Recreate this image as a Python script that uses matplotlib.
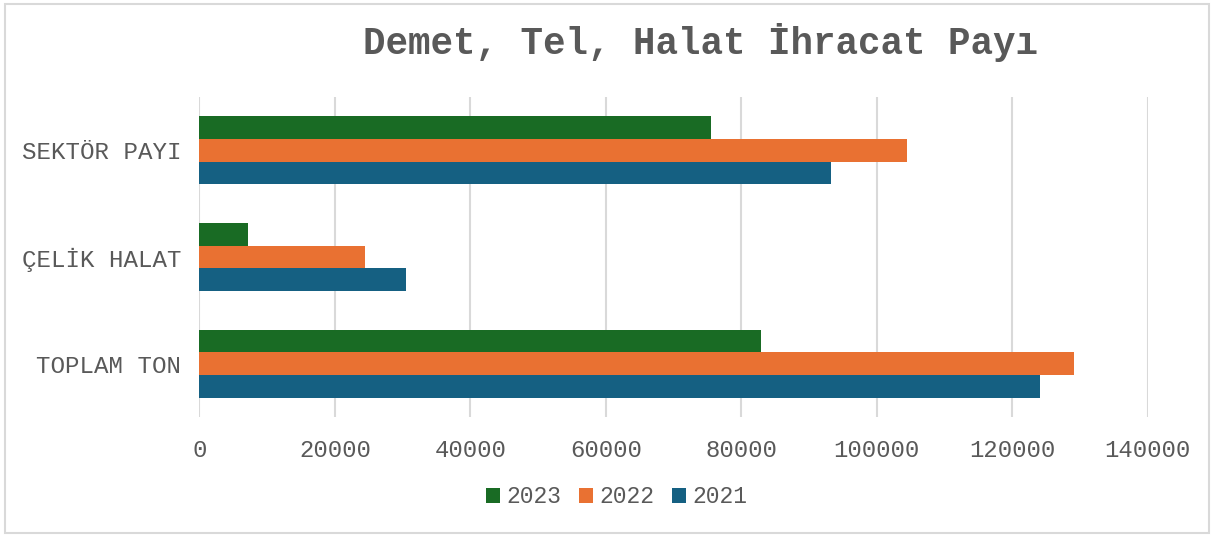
import numpy as np
import matplotlib.pyplot as plt
from matplotlib.patches import Rectangle

# Data
categories = ["TOPLAM TON", "ÇELİK HALAT", "SEKTÖR PAYI"]
years = ["2023", "2022", "2021"]
values_2023 = [82900, 7100, 75600]
values_2022 = [129100, 24450, 104450]
values_2021 = [124100, 30450, 93300]
x_ticks = [0, 20000, 40000, 60000, 80000, 100000, 120000, 140000]

colors = {"2023": "#196B24", "2022": "#E97132", "2021": "#156082"}
text_color = "#595959"
font = "Liberation Mono"


def main() -> None:
    fig = plt.figure(figsize=(12.14, 5.36), dpi=100)
    ax = fig.add_axes([0.1643, 0.222, 0.781, 0.597])

    y = np.arange(len(categories))
    h = 0.213
    series = {"2023": values_2023, "2022": values_2022, "2021": values_2021}
    offsets = {"2023": h, "2022": 0.0, "2021": -h}
    for yr in years:
        ax.barh(y + offsets[yr], series[yr], height=h, color=colors[yr],
                label=yr, zorder=3)

    ax.set_xlim(0, 140000)
    ax.set_ylim(-0.5, 2.5)
    ax.set_xticks(x_ticks)
    ax.set_xticklabels([str(t) for t in x_ticks], fontfamily=font,
                       fontsize=17.2, color=text_color)
    ax.set_yticks(y)
    ax.set_yticklabels(categories, fontfamily=font, fontsize=17.4,
                       color=text_color)
    ax.tick_params(axis="both", length=0)
    ax.tick_params(axis="x", pad=16)
    ax.tick_params(axis="y", pad=13)
    ax.grid(axis="x", color="#d9d9d9", linewidth=1.5, zorder=0)
    for s in ax.spines.values():
        s.set_visible(False)

    fig.text(0.577, 0.921, "Demet, Tel, Halat İhracat Payı", fontfamily=font,
             fontweight="bold", fontsize=27, color=text_color,
             ha="center", va="center")

    fig.legend(loc="center", bbox_to_anchor=(0.508, 0.073), ncol=3,
               frameon=False, prop={"family": font, "size": 16.6},
               labelcolor=text_color, handlelength=0.6, handleheight=0.6,
               handletextpad=0.3, columnspacing=0.75)

    fig.add_artist(Rectangle((0.004, 0.006), 0.992, 0.987,
                             transform=fig.transFigure, fill=False,
                             edgecolor="#d9d9d9", linewidth=1.5))

    fig.savefig("out.png", dpi=100)
    plt.close(fig)


if __name__ == "__main__":
    main()
